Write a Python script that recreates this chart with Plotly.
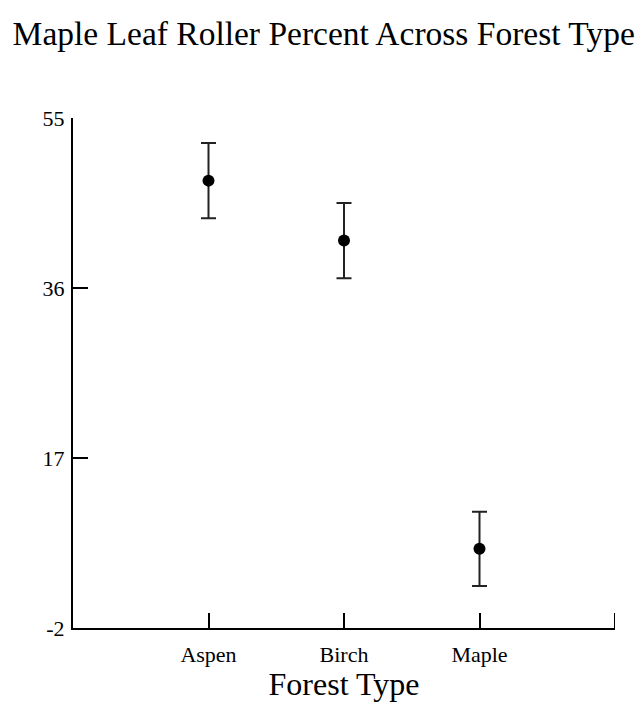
import plotly.graph_objects as go

categories = ["Aspen", "Birch", "Maple"]
means = [48.0, 41.3, 6.85]
errors = [4.2, 4.2, 4.15]
y_ticks = [-2, 17, 36, 55]
y_tick_labels = ["-2", "17", "36", "55"]

xpos = [i + 1 for i in range(len(categories))]
x_end = len(categories) + 1

fig = go.Figure()
fig.add_trace(go.Scatter(
    x=xpos, y=means, mode="markers",
    marker=dict(color="black", size=12),
    error_y=dict(type="data", array=errors, visible=True,
                 color="#222222", thickness=2, width=7.5),
    showlegend=False,
))

font_family = "Liberation Serif, Times New Roman, serif"

# end-of-axis tick at the right end of the x axis
fig.add_shape(type="line", xref="x", yref="y", ysizemode="pixel",
              yanchor=y_ticks[0], x0=x_end, x1=x_end, y0=0, y1=15,
              line=dict(color="black", width=2))

fig.update_layout(
    width=641, height=702,
    margin=dict(l=73, r=26, t=118, b=70),
    paper_bgcolor="white", plot_bgcolor="white",
    font=dict(family=font_family, color="black"),
    title=dict(text="Maple Leaf Roller Percent Across Forest Type",
               x=0.505, xanchor="center", xref="container",
               y=1 - 33 / 702, yanchor="middle", yref="container",
               font=dict(size=33.5, family=font_family, color="black")),
    xaxis=dict(range=[0, x_end], tickvals=xpos,
               ticktext=categories,
               showline=True, linecolor="black", linewidth=2,
               ticks="inside", ticklen=15, tickwidth=2, tickcolor="black",
               showgrid=False, zeroline=False, ticklabelstandoff=6,
               tickfont=dict(size=22, family=font_family),
               title=dict(text="Forest Type", font=dict(size=32, family=font_family), standoff=0)),
    yaxis=dict(range=[-2, 55], tickvals=y_ticks, ticktext=y_tick_labels,
               showline=True, linecolor="black", linewidth=2,
               ticks="inside", ticklen=15, tickwidth=2, tickcolor="black",
               showgrid=False, zeroline=False, ticklabelstandoff=2,
               tickfont=dict(size=22, family=font_family)),
)

fig.write_html("out.html", config={"displayModeBar": False})
with open("out.html", encoding="utf-8") as f:
    html = f.read()
html = html.replace("<body>", '<body style="margin:0;padding:0;overflow:hidden">', 1)
with open("out.html", "w", encoding="utf-8") as f:
    f.write(html)
